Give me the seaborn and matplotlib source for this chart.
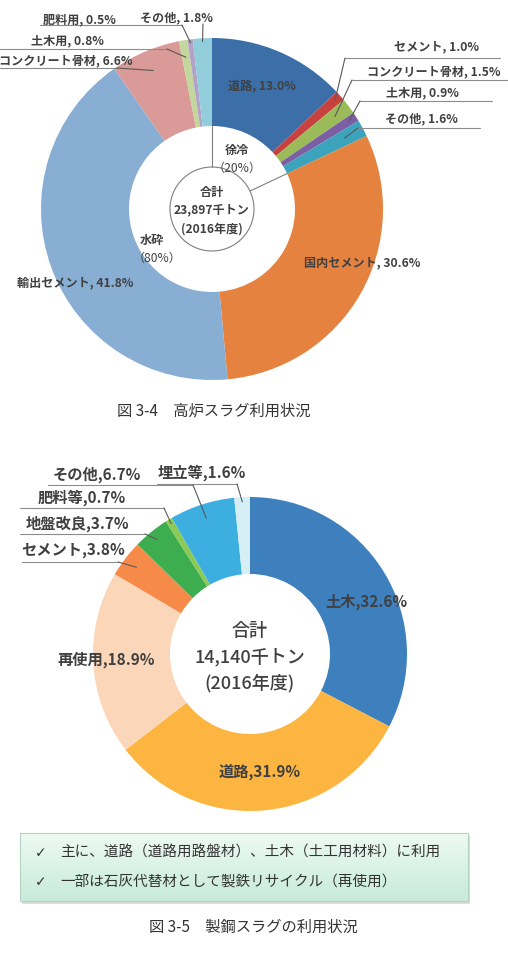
import numpy as np
import matplotlib
matplotlib.use("Agg")
import matplotlib.pyplot as plt
import seaborn as sns
from matplotlib.patches import Circle, Rectangle

# ---------------- data ----------------
blast_labels = ["道路", "セメント", "コンクリート骨材", "土木用", "その他",
                "国内セメント", "輸出セメント", "コンクリート骨材", "土木用", "肥料用", "その他"]
blast_values = [13.0, 1.0, 1.5, 0.9, 1.6, 30.6, 41.8, 6.6, 0.8, 0.5, 1.8]
blast_groups = ["徐冷", "水砕"]
blast_group_pct = [20, 80]
blast_group_size = [5, 6]
blast_total = "23,897千トン"
blast_year = "(2016年度)"

steel_labels = ["土木", "道路", "再使用", "セメント", "地盤改良", "肥料等", "その他", "埋立等"]
steel_values = [32.6, 31.9, 18.9, 3.8, 3.7, 0.7, 6.7, 1.6]
steel_total = "14,140千トン"
steel_year = "(2016年度)"

box_lines = ["主に、道路（道路用路盤材）、土木（土工用材料）に利用",
             "一部は石灰代替材として製鉄リサイクル（再使用）"]
caption1 = "図 3-4　高炉スラグ利用状況"
caption2 = "図 3-5　製鋼スラグの利用状況"

# ---------------- style ----------------
sns.set_theme(style="white")
FAM = ["Noto Sans CJK JP", "DejaVu Sans"]
plt.rcParams["font.family"] = FAM

blast_colors = ["#3C6FA7", "#C7423F", "#9BBB59", "#7C5EA4", "#3BA3BB",
                "#E5823F", "#88AED3", "#D99A98", "#C3D69B", "#B3A2C7", "#92CDDC"]
steel_colors = ["#3E80BE", "#FBB540", "#FCD6B8", "#F68B49", "#3EAD50",
                "#8BCB55", "#3DAEE0", "#D6EEF5"]

W, H = 508, 969
fig = plt.figure(figsize=(W / 100, H / 100), dpi=100)
ax = fig.add_axes([0, 0, 1, 1])


def Y(p):
    return H - p


TXT = "#404040"
LINE = "#8C8C8C"


def anchor(values, idx, cx, cy, R, rf):
    tot = sum(values)
    f = (sum(values[:idx]) + values[idx] / 2) / tot
    th = np.deg2rad(90 - 360 * f)
    return cx + R * rf * np.cos(th), Y(cy) + R * rf * np.sin(th)


def edge_point(values, k, cx, cy, r):
    tot = sum(values)
    f = sum(values[:k]) / tot
    th = np.deg2rad(90 - 360 * f)
    return cx + r * np.cos(th), Y(cy) + r * np.sin(th)


# ---------------- top donut (高炉スラグ) ----------------
c1x, c1y, R1, r1 = 212, 209, 171, 83
ax.pie(blast_values, colors=blast_colors, startangle=90, counterclock=False,
       radius=R1, center=(c1x, Y(c1y)),
       wedgeprops=dict(width=R1 - r1, linewidth=0))

# inner circle + group separators
rc = 42
ax.add_patch(Circle((c1x, Y(c1y)), rc, facecolor="white", edgecolor="#7F7F7F", lw=0.8, zorder=3))
for k in [0, blast_group_size[0]]:
    p0 = edge_point(blast_values, k, c1x, c1y, rc)
    p1 = edge_point(blast_values, k, c1x, c1y, r1)
    ax.plot([p0[0], p1[0]], [p0[1], p1[1]], color="#7F7F7F", lw=0.8, zorder=3)

ax.text(c1x, Y(192), "合計", ha="center", va="center", fontsize=8.7, fontweight="bold", color=TXT, zorder=4)
ax.text(c1x, Y(210), blast_total, ha="center", va="center", fontsize=8.7, fontweight="bold", color=TXT, zorder=4)
ax.text(c1x, Y(229), blast_year, ha="center", va="center", fontsize=8.7, fontweight="bold", color=TXT, zorder=4)
ax.text(237, Y(150), blast_groups[0], ha="center", va="center", fontsize=8.7, fontweight="bold", color=TXT)
ax.text(237, Y(168), f"（{blast_group_pct[0]}%）", ha="center", va="center", fontsize=8.7, color=TXT)
ax.text(152, Y(240), blast_groups[1], ha="center", va="center", fontsize=8.7, fontweight="bold", color=TXT)
ax.text(157, Y(258), f"（{blast_group_pct[1]}%）", ha="center", va="center", fontsize=8.7, color=TXT)


def lab(name, v):
    return f"{name}, {v:.1f}%"


# inside labels
ax.text(262, Y(87), lab(blast_labels[0], blast_values[0]), ha="center", va="center",
        fontsize=8.7, fontweight="bold", color=TXT)
ax.text(362, Y(263), lab(blast_labels[5], blast_values[5]), ha="center", va="center",
        fontsize=8.7, fontweight="bold", color=TXT)
ax.text(75, Y(283), lab(blast_labels[6], blast_values[6]), ha="center", va="center",
        fontsize=8.7, fontweight="bold", color=TXT)

# outside labels: idx, text x, text y, underline y, ux0, ux1, side, rf
top_out = [
    (1, 436, 47, 58, 345, 500, "left", 0.96),
    (2, 434, 72, 80, 352, 508, "left", 0.90),
    (3, 422, 93, 101, 360, 492, "left", 0.95),
    (4, 421, 119, 128, 358, 480, "left", 0.88),
    (7, 66, 61, 68, 0, 117, "right", 0.88),
    (8, 67, 41, 49, 0, 167, "right", 0.90),
    (9, 79, 20, 25, 40, 182, "right", 0.98),
    (10, 176, 18, 24, 203, 203, "right", 0.98),
]
for idx, tx, ty, uy, ux0, ux1, side, rf in top_out:
    ax.text(tx, Y(ty), lab(blast_labels[idx], blast_values[idx]), ha="center", va="center",
            fontsize=8.7, fontweight="bold", color=TXT, zorder=5)
    if ux1 > ux0:
        ax.plot([ux0, ux1], [Y(uy), Y(uy)], color=LINE, lw=0.8, zorder=2)
    sx = ux0 if side == "left" else ux1
    axp, ayp = anchor(blast_values, idx, c1x, c1y, R1, rf)
    ax.plot([sx, axp], [Y(uy), ayp], color="#595959", lw=0.8, zorder=6)

ax.text(214, Y(411), caption1, ha="center", va="center", fontsize=11, color="#333333")

# ---------------- bottom donut (製鋼スラグ) ----------------
c2x, c2y, R2, r2 = 250, 654, 157, 80
ax.pie(steel_values, colors=steel_colors, startangle=90, counterclock=False,
       radius=R2, center=(c2x, Y(c2y)),
       wedgeprops=dict(width=R2 - r2, linewidth=0))

ax.text(c2x, Y(631), "合計", ha="center", va="center", fontsize=13, fontweight="medium", color=TXT)
ax.text(c2x, Y(657), steel_total, ha="center", va="center", fontsize=13, fontweight="medium", color=TXT)
ax.text(c2x, Y(683), steel_year, ha="center", va="center", fontsize=13, fontweight="medium", color=TXT)


def lab2(name, v):
    return f"{name},{v:.1f}%"


ax.text(366, Y(602), lab2(steel_labels[0], steel_values[0]), ha="center", va="center",
        fontsize=11, fontweight="bold", color=TXT)
ax.text(260, Y(773), lab2(steel_labels[1], steel_values[1]), ha="center", va="center",
        fontsize=11, fontweight="bold", color=TXT)
ax.text(106, Y(660), lab2(steel_labels[2], steel_values[2]), ha="center", va="center",
        fontsize=11, fontweight="bold", color=TXT)

bot_out = [
    (3, 73, 550, 562, 22, 118, 0.91),
    (4, 78, 524, 534, 20, 145, 0.94),
    (5, 82, 498, 508, 20, 164, 0.97),
    (6, 97, 475, 485, 48, 193, 0.91),
    (7, 202, 473, 484, 157, 237, 0.97),
]
for idx, tx, ty, uy, ux0, ux1, rf in bot_out:
    ax.text(tx, Y(ty), lab2(steel_labels[idx], steel_values[idx]), ha="center", va="center",
            fontsize=11, fontweight="bold", color=TXT, zorder=5)
    ax.plot([ux0, ux1], [Y(uy), Y(uy)], color=LINE, lw=0.8, zorder=2)
    axp, ayp = anchor(steel_values, idx, c2x, c2y, R2, rf)
    ax.plot([ux1, axp], [Y(uy), ayp], color="#595959", lw=0.8, zorder=6)

# ---------------- note box ----------------
bx0, bx1, by0, by1 = 20, 468, 833, 901
ax.add_patch(Rectangle((bx0 + 2, Y(by1) - 3), bx1 - bx0, by1 - by0, facecolor="#BBBBBB",
                       edgecolor="none", alpha=0.5, zorder=1))
grad = np.linspace(0, 1, 64)[:, None]
top_c = np.array([0.93, 0.98, 0.95])
bot_c = np.array([0.78, 0.92, 0.86])
img = top_c[None, None, :] * (1 - grad[:, :, None]) + bot_c[None, None, :] * grad[:, :, None]
ax.imshow(img, extent=[bx0, bx1, Y(by1), Y(by0)], aspect="auto", zorder=2)
ax.add_patch(Rectangle((bx0, Y(by1)), bx1 - bx0, by1 - by0, facecolor="none",
                       edgecolor="#B5D3C5", lw=0.8, zorder=3))
for i, (ly, line) in enumerate(zip([853, 882], box_lines)):
    ax.text(35, Y(ly), "✓", ha="left", va="center", fontsize=10, color="#333333",
            family=["DejaVu Sans"], zorder=4)
    ax.text(60, Y(ly), line, ha="left", va="center", fontsize=10.5, color="#333333", zorder=4)

ax.text(253, Y(927), caption2, ha="center", va="center", fontsize=11, color="#333333")

ax.set_xlim(0, W)
ax.set_ylim(0, H)
ax.set_aspect("auto")
ax.axis("off")
fig.savefig("out.png", dpi=100, facecolor="white")
